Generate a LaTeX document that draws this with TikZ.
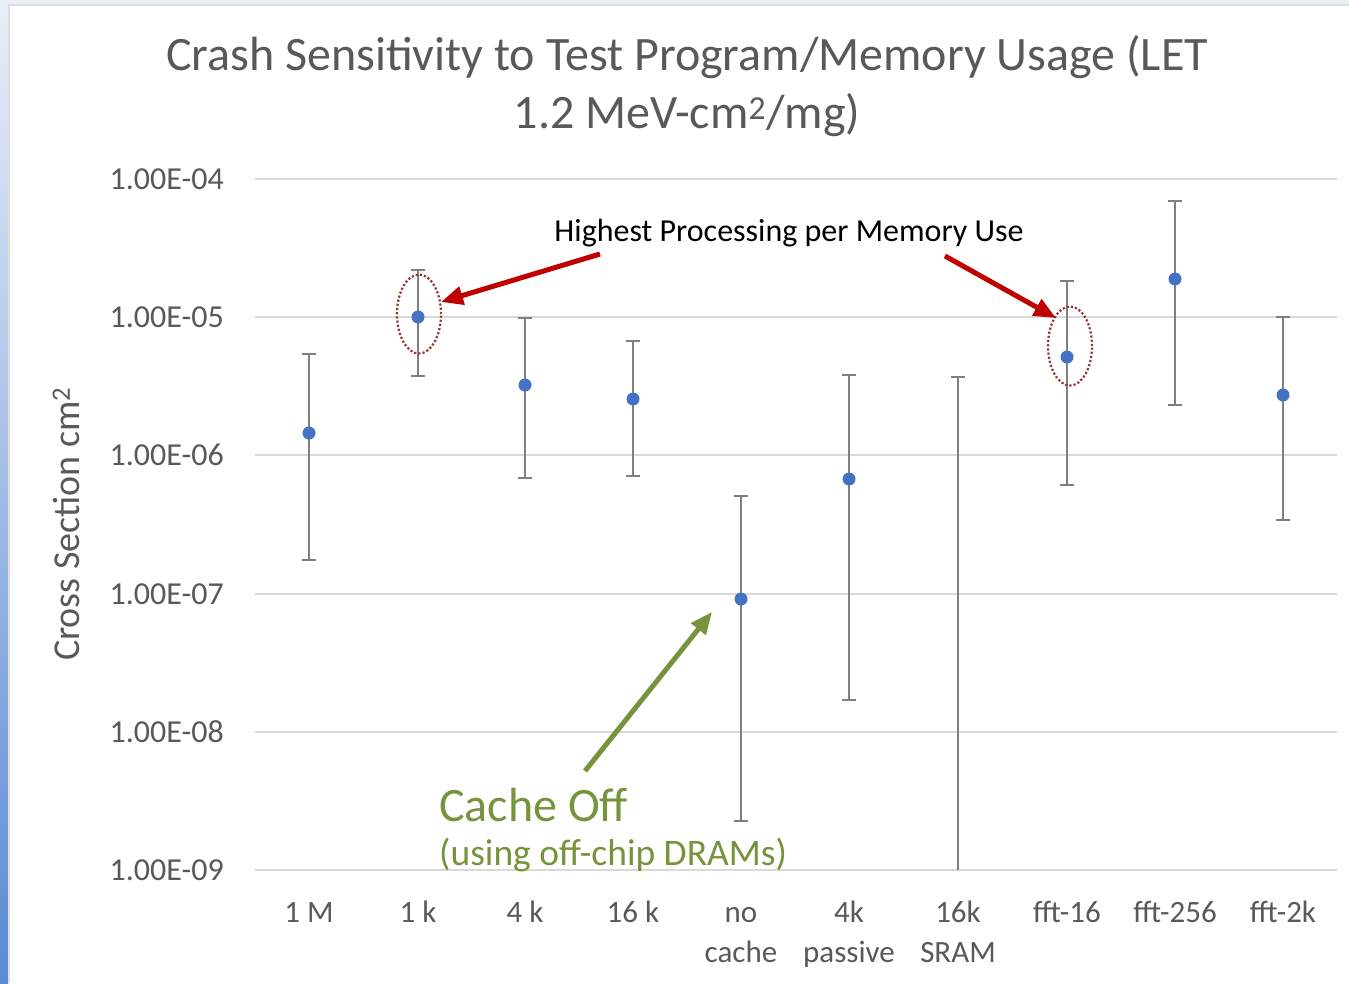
\documentclass[tikz,border=0pt]{standalone}
\usepackage{fontspec}
\setmainfont{Carlito}
\usetikzlibrary{shapes.geometric,arrows.meta}
\definecolor{txtgray}{HTML}{595959}
\definecolor{gridgray}{HTML}{D9D9D9}
\definecolor{barclr}{HTML}{7F7F7F}
\definecolor{ptblue}{HTML}{4472C4}
\definecolor{arrred}{HTML}{C00000}
\definecolor{ellred}{HTML}{953735}
\definecolor{olivegr}{HTML}{77933C}
\definecolor{edgeL}{HTML}{E9EEF7}
\definecolor{edgeD}{HTML}{5A8AD3}
\definecolor{framegray}{HTML}{D9DDE3}
\tikzset{
  gridln/.style={draw=gridgray, line width=1.2pt},
  errbar/.style={draw=barclr, line width=2.5pt},
  ptdot/.style={circle, fill=ptblue, inner sep=0pt, minimum size=13pt},
  ticklbl/.style={anchor=east, text=txtgray, font=\fontsize{32}{38}\selectfont, inner sep=0pt},
  catlbl/.style={anchor=base, text=txtgray, font=\fontsize{31}{40}\selectfont, inner sep=0pt},
  hiell/.style={ellipse, draw=ellred, line width=2.2pt, dotted, minimum width=44pt, minimum height=79pt, inner sep=0pt},
  redarrow/.style={draw=arrred, line width=5pt, -{Triangle[length=22pt,width=18pt]}},
  greenarrow/.style={draw=olivegr, line width=5pt, -{Triangle[length=22pt,width=18pt]}},
}
\begin{document}
\begin{tikzpicture}[x=1pt,y=-1pt]
\useasboundingbox (0,0) rectangle (1349,983);
% frame
\fill[white] (0,0) rectangle (1349,983);
\fill[edgeL] (0,0) rectangle (1349,5);
\shade[top color=edgeL, bottom color=edgeD] (0,0) rectangle (8,983);
\draw[framegray, line width=1.5pt] (9,983) -- (9,5) -- (1349,5);
% title
\node[text=txtgray, align=center, font=\fontsize{48}{58}\selectfont] (title) at (687,86)
  {Crash Sensitivity to Test Program/Memory Usage (LET\\1.2 MeV-cm\textsuperscript{2}/mg)};
% grid and tick labels
\foreach \yy/\lab [count=\i] in {179/1.00E-04, 317/1.00E-05, 455/1.00E-06, 594/1.00E-07, 732/1.00E-08, 870/1.00E-09}{
  \draw[gridln] (255,\yy) -- (1337,\yy);
  \node[ticklbl] (tick\i) at (224,\yy) {\lab};
}
% axis title
\node[rotate=90, text=txtgray, font=\fontsize{38}{44}\selectfont] (ytitle) at (66,524) {Cross Section cm\textsuperscript{2}};
% category labels (first line)
\foreach \xx/\lab [count=\i] in {309/1 M, 418/1 k, 525/4 k, 633/16 k, 741/no, 849/4k, 958/16k, 1067/fft-16, 1175/fft-256, 1283/fft-2k}{
  \node[catlbl] (cat\i) at (\xx,922) {\lab};
}
% category labels (second line)
\node[catlbl] (cat5b) at (741,962) {cache};
\node[catlbl] (cat6b) at (849,962) {passive};
\node[catlbl] (cat7b) at (958,962) {SRAM};
% error bars
\foreach \xx/\top/\bot [count=\i] in {309/354/560, 418/270/376, 525/318/478, 633/341/476, 741/496/821, 849/375/700, 1067/281/485, 1175/201/405, 1283/317/520}{
  \draw[errbar] (\xx,\top) -- (\xx,\bot);
  \draw[errbar] (\xx-7,\top) -- (\xx+7,\top);
  \draw[errbar] (\xx-7,\bot) -- (\xx+7,\bot);
}
\draw[errbar] (958,377) -- (958,870);
\draw[errbar] (951,377) -- (965,377);
% points
\foreach \xx/\yy [count=\i] in {309/433, 418/317, 525/385, 633/399, 741/599, 849/479, 1067/357, 1175/279, 1283/395}{
  \node[ptdot] (pt\i) at (\xx,\yy) {};
}
% highlight ellipses
\node[hiell] (ell1) at (419,314) {};
\node[hiell] (ell2) at (1070,346) {};
% annotation
\node[text=black, font=\fontsize{32}{38}\selectfont] (hitext) at (789,233) {Highest Processing per Memory Use};
\coordinate (r1s) at (600,254);
\coordinate (r1e) at (441,302);
\coordinate (r2s) at (945,256);
\coordinate (r2e) at (1056,318);
\draw[redarrow] (r1s) -- (r1e);
\draw[redarrow] (r2s) -- (r2e);
% cache off
\node[text=olivegr, anchor=west, font=\fontsize{48}{52}\selectfont, inner sep=0pt] (cacheoff) at (439,805) {Cache Off};
\node[text=olivegr, anchor=west, font=\fontsize{37.5}{42}\selectfont, inner sep=0pt] (dram) at (439,855) {(using off-chip DRAMs)};
\coordinate (g1s) at (585,771);
\coordinate (g1e) at (712,612);
\draw[greenarrow] (g1s) -- (g1e);
\end{tikzpicture}
\end{document}
